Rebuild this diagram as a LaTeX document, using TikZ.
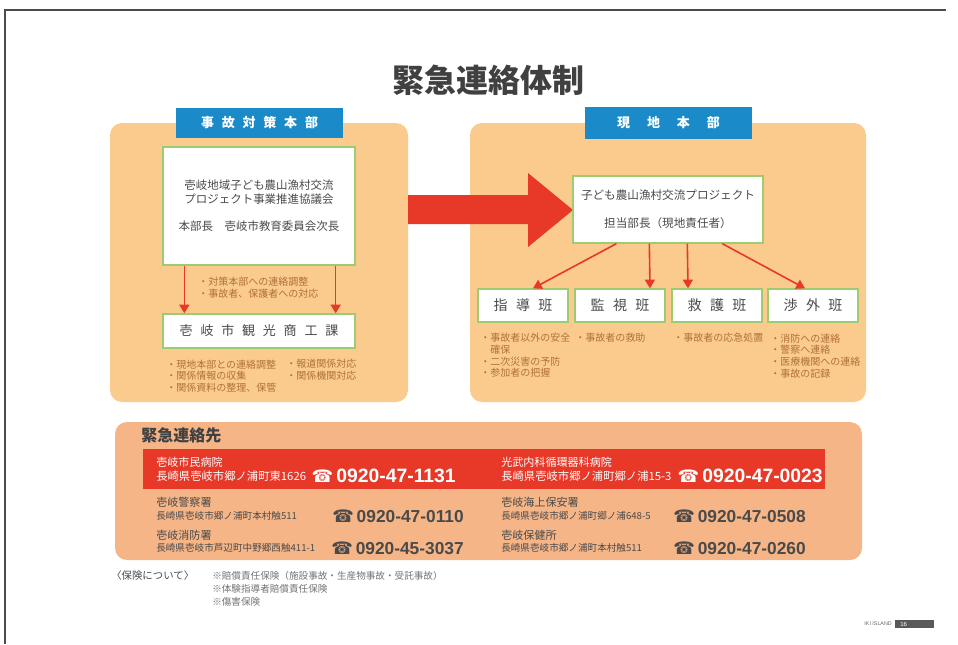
\documentclass[tikz,border=0pt]{standalone}
\usepackage{fontspec}
\usepackage{xcolor}
\usepackage{tikz}
\usetikzlibrary{calc,arrows.meta}
\setmainfont{Noto Sans CJK JP}
\newfontfamily\telfont{DejaVu Sans}
\newfontfamily\numfont{Liberation Sans}

\definecolor{panelor}{HTML}{FBCB8E}
\definecolor{contactor}{HTML}{F6B587}
\definecolor{tagblue}{HTML}{1A8AC9}
\definecolor{arrred}{HTML}{E73828}
\definecolor{boxgreen}{HTML}{9CCB72}
\definecolor{notebrown}{HTML}{B07038}
\definecolor{txtgray}{HTML}{4A4A4A}

\newcommand\fsz[2]{\fontsize{#1}{#2}\selectfont}
\newcommand\gap{\hspace{0.6em}}
\newcommand\tel[1]{{\telfont\fsz{13}{15}☎}\,{\numfont\bfseries #1}}

\tikzset{
  panel/.style={fill=#1, rounded corners=9pt},
  tag/.style={fill=tagblue, text=white, minimum width=125.25pt, minimum height=22.5pt,
    inner sep=0pt, font=\fsz{9.75}{11}\bfseries},
  wbox/.style={draw=boxgreen, line width=1pt, fill=white, inner sep=0pt, text=txtgray},
  redarr/.style={draw=arrred, line width=1.2pt, -{Triangle[width=7.5pt,length=6.5pt]}},
  note/.style={text=notebrown, anchor=west, inner sep=0pt, align=left, font=\fsz{7.5}{8.8}},
  place/.style={anchor=west, inner sep=0pt, font=\fsz{#1}{#1}},
  telno/.style={anchor=east, inner sep=0pt, font=\fsz{13}{15}},
}

\begin{document}
\begin{tikzpicture}[x=0.75pt,y=-0.75pt]
\useasboundingbox (0,0) rectangle (958,644);
\draw[gray!60!black, line width=0.8pt] (946,10) -- (5,10) -- (5,644);

\node[text=black!75, font=\fsz{24}{28}\bfseries] (title) at (488,80) {緊急連絡体制};

% 事故対策本部
\fill[panel=panelor] (110,123) rectangle (408,402);
\node[tag] (ltag) at (259.5,122.5) {事\gap 故\gap 対\gap 策\gap 本\gap 部};
\node[wbox, minimum width=144pt, minimum height=88.5pt, align=center, font=\fsz{8.6}{10.5}]
  (council) at (259,206) {壱岐地域子ども農山漁村交流\\プロジェクト事業推進協議会\\[9.75pt]本部長　壱岐市教育委員会次長};
\node[wbox, minimum width=144pt, minimum height=25.5pt, font=\fsz{9.75}{11}]
  (office) at (259,331) {壱\gap 岐\gap 市\gap 観\gap 光\gap 商\gap 工\gap 課};
\draw[redarr] ($(council.south west)+(22,0)$) -- ($(office.north west)+(22,0)$);
\draw[redarr] ($(council.south east)+(-20,0)$) -- ($(office.north east)+(-20,0)$);
\node[note] (n1) at (198,288) {・対策本部への連絡調整\\・事故者、保護者への対応};
\node[note] (n2) at (166,376) {・現地本部との連絡調整\\・関係情報の収集\\・関係資料の整理、保管};
\node[note] (n3) at (286,370) {・報道関係対応\\・関係機関対応};

% 現地本部
\fill[panel=panelor] (470,123) rectangle (866,402);
\fill[arrred] (408,195) -- (528,195) -- (528,173) -- (573,210) -- (528,247) -- (528,224) -- (408,224) -- cycle;
\node[tag, minimum height=24pt] (rtag) at (668.5,123) {現\hspace{1.3em}地\hspace{1.3em}本\hspace{1.3em}部};
\node[wbox, minimum width=142.5pt, minimum height=50.25pt, align=center, font=\fsz{8.7}{21}]
  (hq) at (668,209.5) {子ども農山漁村交流プロジェクト\\担当部長（現地責任者）};
\foreach \i/\x/\name in {1/523/指\gap 導\gap 班, 2/620/監\gap 視\gap 班, 3/717/救\gap 護\gap 班, 4/813/渉\gap 外\gap 班}
  \node[wbox, minimum width=67.5pt, minimum height=24.75pt, font=\fsz{10.5}{12}] (t\i) at (\x,305.5) {\name};
\foreach \i/\s/\e in {1/44/10, 2/77/30, 3/115/-29, 4/150/-8}
  \draw[redarr] ($(hq.south west)+(\s,0)$) -- ($(t\i.north)+(\e,0)$);
\node[note] (m1) at (480,355.5) {・事故者以外の安全\\\hspace{1em}確保\\・二次災害の予防\\・参加者の把握};
\node[note] (m2) at (575,338) {・事故者の救助};
\node[note] (m3) at (673,338) {・事故者の応急処置};
\node[note] (m4) at (770,356) {・消防への連絡\\・警察へ連絡\\・医療機関への連絡\\・事故の記録};

% 緊急連絡先
\fill[panel=contactor] (115,422) rectangle (862,560);
\node[anchor=west, inner sep=0pt, text=black!75, font=\fsz{12}{14}\bfseries] (ctitle) at (141,435) {緊急連絡先};
\fill[arrred] (143,449) rectangle (825,489);
\begin{scope}[every node/.append style={text=white}]
\node[place=8.3] (h1) at (156,462) {壱岐市民病院};
\node[place=8.5] (h1a) at (156,476) {長崎県壱岐市郷ノ浦町東1626};
\node[telno, font=\fsz{14.5}{16}] (h1t) at (456,476) {\tel{0920-47-1131}};
\node[place=8.3] (h2) at (501,462) {光武内科循環器科病院};
\node[place=8.5] (h2a) at (501,476) {長崎県壱岐市郷ノ浦町郷ノ浦15-3};
\node[telno, font=\fsz{14.5}{16}] (h2t) at (823,476) {\tel{0920-47-0023}};
\end{scope}
\begin{scope}[every node/.append style={text=txtgray}]
\node[place=8.3] (p1) at (156,502) {壱岐警察署};
\node[place=7.2] (p1a) at (156,516) {長崎県壱岐市郷ノ浦町本村触511};
\node[telno] (p1t) at (464,516) {\tel{0920-47-0110}};
\node[place=8.3] (p2) at (156,535) {壱岐消防署};
\node[place=7.2] (p2a) at (156,548) {長崎県壱岐市芦辺町中野郷西触411-1};
\node[telno] (p2t) at (464,548) {\tel{0920-45-3037}};
\node[place=8.3] (p3) at (501,502) {壱岐海上保安署};
\node[place=7.2] (p3a) at (501,516) {長崎県壱岐市郷ノ浦町郷ノ浦648-5};
\node[telno] (p3t) at (806,516) {\tel{0920-47-0508}};
\node[place=8.3] (p4) at (501,535) {壱岐保健所};
\node[place=7.2] (p4a) at (501,548) {長崎県壱岐市郷ノ浦町本村触511};
\node[telno] (p4t) at (806,548) {\tel{0920-47-0260}};
\end{scope}

% 保険
\node[place=7.8, text=txtgray] (ins) at (111,576) {〈保険について〉};
\node[anchor=west, inner sep=0pt, align=left, text=black!55, font=\fsz{7.2}{9.75}] (insl) at (212,589)
  {※賠償責任保険（施設事故・生産物事故・受託事故）\\※体験指導者賠償責任保険\\※傷害保険};

\node[anchor=east, inner sep=0pt, text=black!60, font=\numfont\fsz{4}{5}] (iki) at (892,624) {IKI ISLAND};
\fill[black!65] (895,620) rectangle (934,628);
\node[anchor=west, inner sep=0pt, text=white, font=\numfont\fsz{4.5}{5}] (pg) at (900,624) {16};
\end{tikzpicture}
\end{document}
